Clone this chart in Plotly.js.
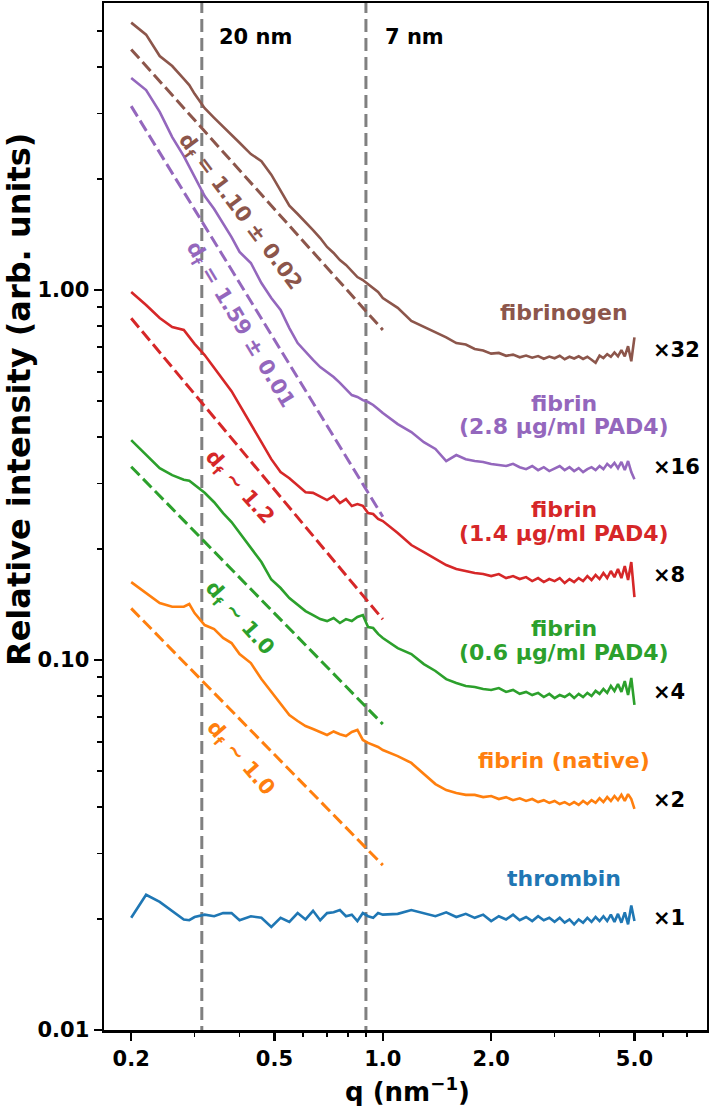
<!DOCTYPE html>
<html>
<head>
<meta charset="utf-8">
<script src="https://cdn.plot.ly/plotly-3.0.1.min.js"></script>
<style>html,body{margin:0;padding:0;background:#fff;}#chart{width:709px;height:1106px;}</style>
</head>
<body>
<div id="chart"></div>
<script>
// ---- data (q in nm^-1, relative intensity, curves already offset by the factor shown) ----
const q = [0.20,0.22,0.24,0.26,0.28,0.29,0.30,0.32,0.34,0.36,0.38,0.40,0.43,0.46,0.49,0.52,0.55,0.58,0.61,0.64,0.67,0.70,0.73,0.76,0.79,0.82,0.85,0.88,0.91,0.94,0.97,1.00,
  1.1,1.2,1.3,1.4,1.5,1.6,1.7,1.8,1.9,2.0,2.1,2.2,2.3,2.4,2.5,2.6,2.7,2.8,2.9,3.0,3.1,3.2,3.3,3.4,3.5,3.6,3.7,3.8,3.9,4.0,4.1,4.2,4.3,4.4,4.5,4.6,4.7,4.8,4.9,5.0];

const thrombin = [0.0201,0.0232,0.0222,0.0210,0.0199,0.0198,0.0202,0.0205,0.0203,0.0207,0.0207,0.0198,0.0203,0.0201,0.0190,0.0201,0.0196,0.0207,0.0199,0.0210,0.0198,0.0207,0.0208,0.0211,0.0203,0.0205,0.0197,0.0207,0.0203,0.0201,0.0207,0.0205,
  0.0206,0.0211,0.0207,0.0203,0.0208,0.0202,0.0206,0.0201,0.0205,0.0197,
  0.0203,0.0199,0.0205,0.0198,0.0202,0.0197,0.0203,0.0198,0.0201,0.0196,
  0.0201,0.0195,0.0199,0.0193,0.0199,0.0195,0.0201,0.0196,0.0202,0.0197,
  0.0203,0.0197,0.0205,0.0196,0.0206,0.0195,0.0208,0.0193,0.0217,0.0197];

const fibrinNative = [0.1624,0.1518,0.1426,0.1393,0.1393,0.1417,0.1339,0.1243,0.1213,0.1147,0.1111,0.1038,0.0981,0.0888,0.0820,0.0765,0.0710,0.0684,0.0663,0.0651,0.0639,0.0627,0.0641,0.0630,0.0623,0.0639,0.0647,0.0608,0.0597,0.0589,0.0582,0.0571,
  0.0550,0.0527,0.0492,0.0462,0.0445,0.0437,0.0432,0.0432,0.0426,0.0429,
  0.0421,0.0426,0.0418,0.0423,0.0416,0.0421,0.0413,0.0418,0.0411,0.0416,
  0.0408,0.0413,0.0406,0.0413,0.0406,0.0416,0.0408,0.0418,0.0411,0.0423,
  0.0413,0.0426,0.0416,0.0429,0.0418,0.0432,0.0416,0.0434,0.0421,0.0396];

const fibrin06 = [0.393,0.358,0.330,0.316,0.307,0.305,0.297,0.283,0.267,0.2496,0.236,0.2204,0.2008,0.184,0.165,0.1565,0.1471,0.1408,0.1356,0.1323,0.129,0.1274,0.1298,0.1259,0.129,0.1274,0.1307,0.1323,0.1228,0.1220,0.1176,0.1147,
  0.1077,0.1038,0.0975,0.0934,0.0888,0.0867,0.0851,0.0845,0.0835,0.0830,
  0.0840,0.0820,0.0830,0.0810,0.0820,0.0804,0.0815,0.0794,0.0810,0.0789,
  0.0804,0.0794,0.0810,0.0789,0.0810,0.0794,0.0815,0.0799,0.0825,0.0810,
  0.0835,0.0815,0.0851,0.0825,0.0861,0.0820,0.0877,0.0804,0.0894,0.0756];

const fibrin14 = [0.988,0.911,0.840,0.794,0.780,0.746,0.715,0.667,0.615,0.571,0.533,0.489,0.432,0.388,0.349,0.322,0.310,0.297,0.284,0.283,0.276,0.2706,0.2775,0.2657,0.2723,0.2608,0.264,0.261,0.2496,0.248,0.2405,0.2375,
  0.2204,0.2045,0.1958,0.1875,0.1806,0.1762,0.174,0.1718,0.1707,0.1686,
  0.1707,0.1665,0.1686,0.1655,0.1675,0.1634,0.1665,0.1624,0.1655,0.1634,
  0.1665,0.1614,0.1655,0.1624,0.1665,0.1634,0.1686,0.1645,0.1697,0.1655,
  0.1718,0.1665,0.174,0.1675,0.1762,0.1665,0.1795,0.1645,0.184,0.148];

const fibrin28 = [3.74,3.47,3.03,2.59,2.30,2.16,2.02,1.795,1.655,1.517,1.39,1.267,1.183,1.044,0.951,0.883,0.789,0.719,0.680,0.647,0.619,0.600,0.582,0.561,0.540,0.520,0.514,0.504,0.498,0.489,0.477,0.465,
  0.434,0.413,0.388,0.372,0.345,0.358,0.349,0.345,0.343,0.3387,
  0.3365,0.3345,0.339,0.332,0.328,0.3345,0.326,0.332,0.324,0.330,
  0.3345,0.326,0.332,0.324,0.330,0.322,0.328,0.332,0.326,0.3345,
  0.328,0.339,0.332,0.341,0.330,0.343,0.326,0.345,0.322,0.308];

const fibrinogen = [5.28,4.90,4.29,4.03,3.72,3.58,3.39,3.10,2.92,2.77,2.62,2.50,2.33,2.23,2.05,1.86,1.69,1.605,1.527,1.452,1.382,1.307,1.259,1.205,1.169,1.126,1.084,1.064,1.038,1.013,0.988,0.951,
  0.895,0.825,0.795,0.770,0.745,0.719,0.712,0.693,0.686,0.673,
  0.676,0.664,0.669,0.658,0.665,0.656,0.663,0.652,0.661,0.654,
  0.664,0.650,0.660,0.653,0.662,0.651,0.660,0.648,0.636,0.665,
  0.655,0.671,0.660,0.678,0.662,0.688,0.662,0.705,0.642,0.745];

// power-law fits (drawn from q = 0.2 to 1.0)
const fitQ = [0.2, 1.0];
const fitFibrinogen = [4.47, 0.780];
const fitFibrin28 = [3.14, 0.244];
const fitFibrin14 = [0.839, 0.1288];
const fitFibrin06 = [0.333, 0.0671];
const fitNative = [0.1379, 0.0279];

// characteristic length guides: 20 nm and 7 nm (q = 2π/d)
const guideQ = [0.3142, 0.8976];
const guideLabels = ["20 nm", "7 nm"];

const xTickVals = [0.2, 0.5, 1, 2, 5];
const xTickText = ["0.2", "0.5", "1.0", "2.0", "5.0"];
const yTickVals = [0.01, 0.1, 1];
const yTickText = ["0.01", "0.10", "1.00"];

// ---- styling ----
const C = {blue:'#1f77b4', orange:'#ff7f0e', green:'#2ca02c', red:'#d62728', purple:'#9467bd', brown:'#8c564b'};
const FONT = 'DejaVu Sans, Verdana, sans-serif';
const L = 104, R = 2, T = 3, B = 76, W = 709, H = 1106;
const PW = W - L - R, PH = H - T - B;
function px(x){ return (x - L) / PW; }
function py(y){ return (H - B - y) / PH; }

const traces = [];
guideQ.forEach(g => traces.push({x:[g, g], y:[1e-3, 100], mode:'lines', line:{color:'#808080', width:3, dash:'13px,6px'}, hoverinfo:'skip'}));

const fits = [[fitNative, C.orange],[fitFibrin06, C.green],[fitFibrin14, C.red],[fitFibrin28, C.purple],[fitFibrinogen, C.brown]];
fits.forEach(([v, c]) => traces.push({x:fitQ, y:v, mode:'lines', line:{color:c, width:3, dash:'12px,5px'}, hoverinfo:'skip'}));

const curves = [[thrombin, C.blue],[fibrinNative, C.orange],[fibrin06, C.green],[fibrin14, C.red],[fibrin28, C.purple],[fibrinogen, C.brown]];
curves.forEach(([v, c]) => traces.push({x:q, y:v, mode:'lines', line:{color:c, width:2.6}, hoverinfo:'skip'}));

function ann(text, x, y, color, size, extra){
  return Object.assign({text:text, xref:'paper', yref:'paper', x:px(x), y:py(y), showarrow:false,
    xanchor:'center', yanchor:'middle', font:{family:FONT, size:size, color:color, weight:'bold'}}, extra || {});
}

const annotations = [
  ann(guideLabels[0], 217, 37, '#000', 21, {xanchor:'left'}),
  ann(guideLabels[1], 383, 37, '#000', 21, {xanchor:'left'}),
  ann('d<sub>f</sub> = 1.10 ± 0.02', 240, 212, C.brown, 21, {textangle:53}),
  ann('d<sub>f</sub> = 1.59 ± 0.01', 240, 325, C.purple, 21, {textangle:59}),
  ann('d<sub>f</sub> ∼ 1.2', 239, 487, C.red, 21, {textangle:48}),
  ann('d<sub>f</sub> ∼ 1.0', 239, 618, C.green, 21, {textangle:48}),
  ann('d<sub>f</sub> ∼ 1.0', 240, 758, C.orange, 21, {textangle:49}),
  ann('fibrinogen', 564, 312, C.brown, 22),
  ann('fibrin', 564, 403, C.purple, 22),
  ann('(2.8 µg/ml PAD4)', 564, 427, C.purple, 22),
  ann('fibrin', 564, 510, C.red, 22),
  ann('(1.4 µg/ml PAD4)', 564, 533, C.red, 22),
  ann('fibrin', 564, 628, C.green, 22),
  ann('(0.6 µg/ml PAD4)', 564, 652, C.green, 22),
  ann('fibrin (native)', 564, 760, C.orange, 22),
  ann('thrombin', 564, 878, C.blue, 22),
  ann('×32', 651, 350, '#000', 21, {xanchor:'left'}),
  ann('×16', 651, 467, '#000', 21, {xanchor:'left'}),
  ann('×8', 651, 575, '#000', 21, {xanchor:'left'}),
  ann('×4', 651, 692, '#000', 21, {xanchor:'left'}),
  ann('×2', 651, 800, '#000', 21, {xanchor:'left'}),
  ann('×1', 651, 918, '#000', 21, {xanchor:'left'}),
  ann('Relative intensity (arb. units)', 19, 400, '#000', 32, {textangle:-90}),
  ann('q (nm<sup>−1</sup>)', 407, 1090, '#000', 26)
];

const axisCommon = {showline:true, linecolor:'#000', linewidth:2.5, mirror:true, showgrid:false, zeroline:false,
  ticks:'outside', ticklen:8, tickwidth:2.5, tickcolor:'#000',
  tickfont:{family:FONT, size:21, color:'#000', weight:'bold'}};

const layout = {
  width:W, height:H, margin:{l:L, r:R, t:T, b:B, pad:0},
  paper_bgcolor:'#fff', plot_bgcolor:'#fff', showlegend:false, hovermode:false,
  font:{family:FONT, color:'#000', weight:'bold'},
  xaxis:Object.assign({}, axisCommon, {type:'log', range:[-0.7745, 0.9005], tickmode:'array', tickvals:xTickVals, ticktext:xTickText,
    minor:{tickmode:'array', tickvals:[0.3,0.4,0.6,0.7,0.8,0.9,3,4,6,7], ticks:'outside', ticklen:4.5, tickwidth:1.8, tickcolor:'#000'}}),
  yaxis:Object.assign({}, axisCommon, {type:'log', range:[-2, 0.7757], tickmode:'array', tickvals:yTickVals, ticktext:yTickText,
    minor:{tickmode:'array', tickvals:[0.02,0.03,0.04,0.05,0.06,0.07,0.08,0.09,0.2,0.3,0.4,0.5,0.6,0.7,0.8,0.9,2,3,4,5], ticks:'outside', ticklen:4.5, tickwidth:1.8, tickcolor:'#000'}}),
  annotations:annotations
};

Plotly.newPlot('chart', traces, layout, {staticPlot:true, displayModeBar:false});
</script>
</body>
</html>
